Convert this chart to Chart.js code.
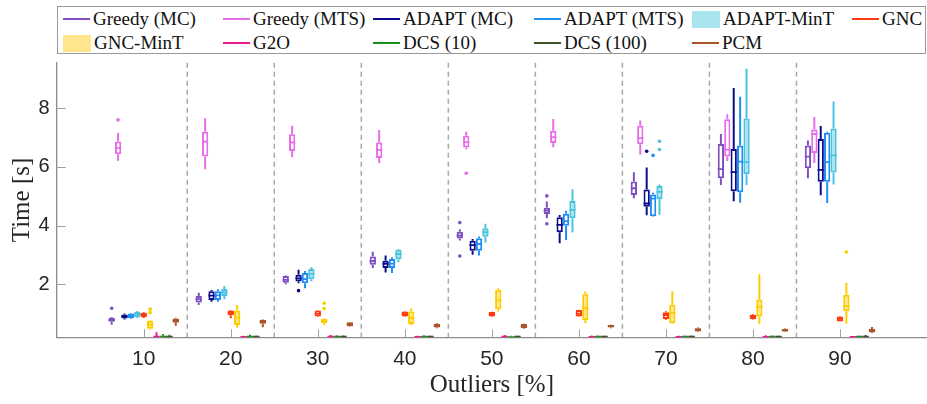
<!DOCTYPE html>
<html>
<head>
<meta charset="utf-8">
<script src="https://cdn.jsdelivr.net/npm/chart.js@4.4.0/dist/chart.umd.min.js"></script>
<style>
html, body { margin: 0; padding: 0; background: #fff; }
#wrap { position: relative; width: 927px; height: 404px; }
#legend { position: absolute; left: 57px; top: 6px; width: 869px; height: 48px; border: 1px solid #9a9a9a; background: #fff;
  font-size: 19px; font-family: "Liberation Serif", "Times New Roman", Times, "DejaVu Serif", serif; color: #111; box-sizing: border-box; }
.item { position: absolute; display: flex; align-items: center; white-space: nowrap; height: 22px; }
.line { width: 27px; height: 2.5px; margin-right: 3px; }
.patch { width: 28px; height: 17px; margin-right: 3px; }
</style>
</head>
<body>
<div id="wrap">
  <canvas id="chart" width="927" height="404"></canvas>
  <div id="legend"></div>
</div>
<script>
// outlier rate categories (x axis)
const outlierRates = [10, 20, 30, 40, 50, 60, 70, 80, 90];
const yTicks = [2, 4, 6, 8];

// box stats per outlier rate: [min, q1, median, q3, max]  (time in s)
const greedyMC = [[0.62,0.72,0.78,0.86,0.88],[1.29,1.38,1.49,1.60,1.71],[2.00,2.05,2.15,2.28,2.30],[2.55,2.66,2.79,2.94,3.11],[3.49,3.56,3.66,3.79,3.87],[4.25,4.39,4.51,4.61,4.82],[4.93,5.04,5.27,5.50,5.82],[5.38,5.61,5.92,6.78,7.12],[5.61,5.95,6.35,6.73,6.90]];
const greedyMCOut = [[1.18],[],[],[],[4.10,2.96],[5.01,4.06],[],[],[]];

const greedyMTS = [[6.21,6.43,6.64,6.86,7.15],[5.92,6.35,6.86,7.20,7.66],[6.33,6.54,6.83,7.11,7.40],[6.13,6.30,6.58,6.83,7.26],[6.60,6.66,6.84,7.06,7.20],[6.67,6.81,7.01,7.23,7.63],[6.41,6.77,6.98,7.40,7.58],[6.20,6.35,6.59,7.62,7.79],[6.13,6.47,7.12,7.27,7.70]];
const greedyMTSOut = [[7.60],[],[],[],[5.78],[],[],[],[]];

const adaptMC = [[0.80,0.83,0.90,0.97,1.00],[1.40,1.46,1.61,1.76,1.80],[2.03,2.09,2.20,2.32,2.49],[2.40,2.55,2.69,2.80,2.98],[3.00,3.14,3.33,3.48,3.54],[3.40,3.77,4.02,4.28,4.36],[4.35,4.64,4.75,5.23,5.98],[4.83,5.17,5.82,6.61,8.69],[5.03,5.49,5.90,6.95,7.39]];
const adaptMCOut = [[],[],[1.78],[],[],[],[6.53],[],[]];

const adaptMTS = [[0.82,0.85,0.92,1.00,1.02],[1.40,1.46,1.62,1.76,1.83],[1.86,2.03,2.17,2.38,2.45],[2.38,2.55,2.70,2.86,2.92],[2.98,3.14,3.37,3.57,3.63],[3.51,3.99,4.15,4.40,4.50],[4.30,4.32,4.92,5.06,5.12],[4.78,5.13,6.18,6.73,8.39],[4.77,5.49,6.16,7.16,7.20]];
const adaptMTSOut = [[],[],[],[],[],[],[6.39],[],[]];

const adaptMinT = [[0.84,0.87,0.96,1.05,1.09],[1.49,1.60,1.72,1.84,1.94],[2.10,2.17,2.35,2.52,2.58],[2.75,2.85,3.03,3.17,3.20],[3.42,3.62,3.77,3.91,4.06],[3.76,4.25,4.53,4.84,5.24],[4.37,4.90,5.15,5.35,5.40],[5.38,5.75,6.16,7.65,9.34],[5.40,5.81,6.39,7.31,8.23]];
const adaptMinTOut = [[],[],[],[],[],[],[6.87,6.59],[],[]];

const gnc = [[0.85,0.88,0.97,1.03,1.05],[0.84,0.94,1.02,1.10,1.12],[0.88,0.90,1.00,1.10,1.12],[0.88,0.90,0.98,1.07,1.09],[0.88,0.90,0.97,1.05,1.06],[0.88,0.90,1.00,1.12,1.13],[0.79,0.81,0.95,1.04,1.08],[0.80,0.81,0.90,0.96,0.98],[0.72,0.73,0.82,0.90,0.92]];
const gncOut = [[],[],[],[],[],[],[],[],[]];

const gncMinT = [[0.45,0.48,0.62,0.75,0.78],[0.52,0.61,0.86,1.10,1.29],[0.61,0.67,0.75,0.81,0.83],[0.61,0.64,0.85,1.07,1.18],[1.07,1.15,1.45,1.81,1.86],[0.67,0.78,1.18,1.66,1.75],[0.65,0.67,1.02,1.30,1.76],[0.65,0.90,1.23,1.48,2.34],[0.65,1.08,1.25,1.64,2.05]];
const gncMinTOut = [[1.15,1.03],[],[1.35,1.17],[],[],[],[],[],[3.10]];

const g2o = [[0.17,0.19,0.21,0.23,0.36],[0.17,0.19,0.20,0.22,0.24],[0.17,0.19,0.21,0.22,0.27],[0.17,0.19,0.20,0.22,0.24],[0.17,0.19,0.21,0.22,0.27],[0.17,0.19,0.20,0.22,0.25],[0.17,0.19,0.20,0.22,0.24],[0.17,0.19,0.20,0.22,0.26],[0.17,0.19,0.20,0.22,0.23]];
const g2oOut = [[],[],[],[],[],[],[],[],[]];

const dcs10 = [[0.17,0.19,0.21,0.24,0.30],[0.17,0.19,0.21,0.23,0.28],[0.17,0.19,0.21,0.23,0.25],[0.17,0.19,0.21,0.23,0.25],[0.14,0.16,0.19,0.23,0.24],[0.17,0.19,0.21,0.24,0.25],[0.17,0.19,0.21,0.23,0.24],[0.17,0.19,0.21,0.24,0.25],[0.17,0.19,0.21,0.23,0.24]];
const dcs10Out = [[],[],[],[],[],[],[],[],[]];

const dcs100 = [[0.17,0.19,0.21,0.24,0.28],[0.17,0.19,0.21,0.23,0.24],[0.17,0.19,0.21,0.23,0.25],[0.17,0.19,0.21,0.23,0.24],[0.17,0.19,0.21,0.23,0.24],[0.17,0.19,0.21,0.23,0.24],[0.17,0.19,0.21,0.24,0.25],[0.17,0.19,0.21,0.23,0.24],[0.17,0.19,0.21,0.23,0.27]];
const dcs100Out = [[],[],[],[],[],[],[],[],[]];

const pcm = [[0.58,0.69,0.76,0.83,0.86],[0.53,0.65,0.72,0.78,0.80],[0.55,0.57,0.63,0.70,0.71],[0.50,0.52,0.58,0.64,0.67],[0.48,0.50,0.57,0.64,0.65],[0.50,0.52,0.57,0.61,0.62],[0.37,0.39,0.45,0.50,0.52],[0.37,0.39,0.43,0.47,0.49],[0.33,0.35,0.42,0.47,0.54]];
const pcmOut = [[],[],[],[],[],[],[],[],[]];

const methods = [
	{ label: 'Greedy (MC)',  stats: greedyMC,  out: greedyMCOut,  color: '#7e4fc0', fill: '#ffffff', swatch: 'line' },
	{ label: 'Greedy (MTS)', stats: greedyMTS, out: greedyMTSOut, color: '#e86de8', fill: '#ffffff', swatch: 'line' },
	{ label: 'ADAPT (MC)',   stats: adaptMC,   out: adaptMCOut,   color: '#0b0b8c', fill: '#ffffff', swatch: 'line' },
	{ label: 'ADAPT (MTS)',  stats: adaptMTS,  out: adaptMTSOut,  color: '#1f8ef5', fill: '#ffffff', swatch: 'line' },
	{ label: 'ADAPT-MinT',   stats: adaptMinT, out: adaptMinTOut, color: '#4ac3df', fill: '#a9e3ee', swatch: 'patch' },
	{ label: 'GNC',          stats: gnc,       out: gncOut,       color: '#ff3a12', fill: '#ffffff', swatch: 'line' },
	{ label: 'GNC-MinT',     stats: gncMinT,   out: gncMinTOut,   color: '#ffcc00', fill: '#ffe68c', swatch: 'patch' },
	{ label: 'G2O',          stats: g2o,       out: g2oOut,       color: '#ec1b8d', fill: '#ffffff', swatch: 'line' },
	{ label: 'DCS (10)',     stats: dcs10,     out: dcs10Out,     color: '#1c8f1c', fill: '#ffffff', swatch: 'line' },
	{ label: 'DCS (100)',    stats: dcs100,    out: dcs100Out,    color: '#3d5229', fill: '#ffffff', swatch: 'line' },
	{ label: 'PCM',          stats: pcm,       out: pcmOut,       color: '#a8552b', fill: '#ffffff', swatch: 'line' }
];

// empty category at both ends so the axis runs 0..100
const xLabels = ['', ...outlierRates.map(String), ''];
const serif = '"Liberation Serif", "Times New Roman", Times, "DejaVu Serif", serif';
const sans = '"Liberation Sans", Arial, Helvetica, sans-serif';

// whiskers, medians, outliers, separators and inward ticks, all via the chart's scales
const boxPlot = {
	id: 'boxPlot',
	beforeDatasetsDraw(chart) {
		const { ctx, chartArea: a, scales: { x, y } } = chart;
		ctx.save();
		// dashed separators between groups
		ctx.strokeStyle = '#a8a8a8';
		ctx.lineWidth = 1.5;
		ctx.setLineDash([5, 4]);
		for (let i = 1; i < xLabels.length - 2; i++) {
			const px = (x.getPixelForValue(i) + x.getPixelForValue(i + 1)) / 2;
			ctx.beginPath(); ctx.moveTo(px, a.top); ctx.lineTo(px, a.bottom); ctx.stroke();
		}
		ctx.setLineDash([]);
		// inward tick marks
		ctx.strokeStyle = '#a0a0a0';
		ctx.lineWidth = 1;
		outlierRates.forEach((r, i) => {
			const px = Math.round(x.getPixelForValue(i + 1)) + 0.5;
			ctx.beginPath(); ctx.moveTo(px, a.bottom); ctx.lineTo(px, a.bottom - 8); ctx.stroke();
		});
		yTicks.forEach(v => {
			const py = Math.round(y.getPixelForValue(v)) + 0.5;
			ctx.beginPath(); ctx.moveTo(a.left, py); ctx.lineTo(a.left + 9, py); ctx.stroke();
		});
		// whiskers
		ctx.beginPath(); ctx.rect(a.left, a.top, a.width, a.height); ctx.clip();
		chart.data.datasets.forEach((ds, i) => {
			const meta = chart.getDatasetMeta(i);
			ctx.strokeStyle = ds.borderColor;
			ctx.lineWidth = 2;
			ds.stats.forEach((s, j) => {
				const bar = meta.data[j + 1];
				ctx.beginPath();
				ctx.moveTo(bar.x, y.getPixelForValue(s[0])); ctx.lineTo(bar.x, y.getPixelForValue(s[1]));
				ctx.moveTo(bar.x, y.getPixelForValue(s[3])); ctx.lineTo(bar.x, y.getPixelForValue(s[4]));
				ctx.stroke();
			});
		});
		ctx.restore();
	},
	afterDatasetsDraw(chart) {
		const { ctx, chartArea: a, scales: { y } } = chart;
		ctx.save();
		ctx.beginPath(); ctx.rect(a.left, a.top, a.width, a.height); ctx.clip();
		chart.data.datasets.forEach((ds, i) => {
			const meta = chart.getDatasetMeta(i);
			ctx.strokeStyle = ds.borderColor;
			ctx.fillStyle = ds.borderColor;
			ctx.lineWidth = 1.8;
			ds.stats.forEach((s, j) => {
				const bar = meta.data[j + 1];
				const py = y.getPixelForValue(s[2]);
				ctx.beginPath(); ctx.moveTo(bar.x - bar.width / 2, py); ctx.lineTo(bar.x + bar.width / 2, py); ctx.stroke();
				ds.outliers[j].forEach(v => {
					ctx.beginPath(); ctx.arc(bar.x, y.getPixelForValue(v), 1.8, 0, Math.PI * 2); ctx.fill();
				});
			});
		});
		ctx.restore();
	}
};

const chart = new Chart(document.getElementById('chart'), {
	type: 'bar',
	data: {
		labels: xLabels,
		datasets: methods.map(m => ({
			label: m.label,
			data: [null, ...m.stats.map(s => [s[1], s[3]]), null],
			backgroundColor: m.fill,
			borderColor: m.color,
			borderWidth: 2,
			borderSkipped: false,
			stats: m.stats,
			outliers: m.out
		}))
	},
	options: {
		responsive: false,
		animation: false,
		devicePixelRatio: 1,
		layout: { padding: { top: 62.7, left: 0, right: 0, bottom: 0 } },
		datasets: { bar: { categoryPercentage: 0.81, barPercentage: 0.98 } },
		plugins: { legend: { display: false }, tooltip: { enabled: false } },
		scales: {
			x: {
				type: 'category',
				offset: false,
				grid: { display: false, drawTicks: false },
				border: { display: true, color: '#8c8c8c', width: 1.3 },
				ticks: { autoSkip: false, maxRotation: 0, padding: 9, color: '#262626', font: { family: sans, size: 21 } },
				title: { display: true, text: 'Outliers [%]', color: '#262626', font: { family: serif, size: 25 }, padding: { top: 0, bottom: 4 } },
				afterFit: s => { s.height = 66.7; s.paddingLeft = 0; s.paddingRight = 0; }
			},
			y: {
				min: 0.19,
				max: 9.55,
				grid: { display: false, drawTicks: false },
				border: { display: true, color: '#8c8c8c', width: 1.3 },
				afterBuildTicks: s => { s.ticks = yTicks.map(v => ({ value: v })); },
				ticks: { padding: 7, color: '#262626', font: { family: sans, size: 20 } },
				title: { display: true, text: 'Time [s]', color: '#262626', font: { family: serif, size: 25 }, padding: { top: 7, bottom: 0 } },
				afterFit: s => { s.width = 56.7; }
			}
		}
	},
	plugins: [boxPlot]
});

// legend laid out in fixed columns like the original
const legendCols = [62, 222, 372, 533, 691, 851];
const legendRows = [10, 34];
const legendEl = document.getElementById('legend');
methods.forEach((m, i) => {
	const item = document.createElement('div');
	item.className = 'item';
	item.style.left = (legendCols[i % 6] - 57) + 'px';
	item.style.top = (legendRows[Math.floor(i / 6)] - 6 - 3) + 'px';
	const sw = document.createElement('span');
	sw.className = m.swatch;
	sw.style.background = m.swatch === 'patch' ? m.fill : m.color;
	const txt = document.createElement('span');
	txt.textContent = m.label;
	item.appendChild(sw);
	item.appendChild(txt);
	legendEl.appendChild(item);
});
</script>
</body>
</html>
